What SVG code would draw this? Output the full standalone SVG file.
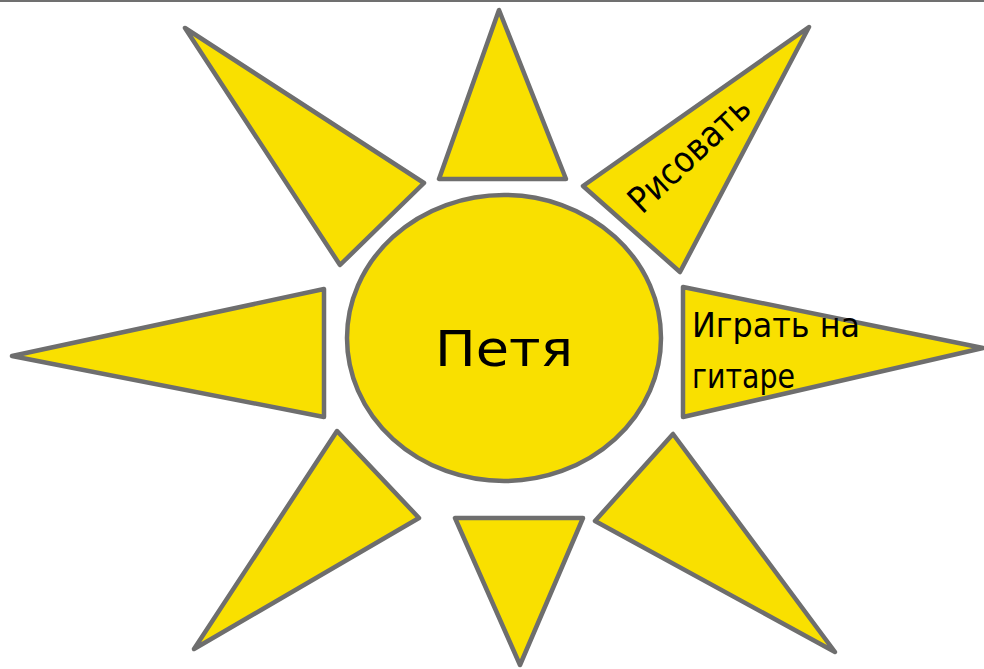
<svg xmlns="http://www.w3.org/2000/svg" width="984" height="669" viewBox="0 0 984 669">
  <style>
    .ray { fill: #f9e000; stroke: #6e6e6e; stroke-width: 4.5; stroke-linejoin: round; }
    .core { fill: #f9e000; stroke: #6e6e6e; stroke-width: 4.5; }
    .lbl { font-family: "DejaVu Sans", "Noto Sans", sans-serif; fill: #000000; }
  </style>
  <rect x="0" y="0" width="984" height="669" fill="#ffffff"/>
  <line x1="0" y1="1" x2="984" y2="1" stroke="#707070" stroke-width="2"/>

  <g id="ray-top">
    <polygon class="ray" points="499,10 439,179 566,179"/>
  </g>
  <g id="ray-top-left">
    <polygon class="ray" points="185,28 424,183 340,265"/>
  </g>
  <g id="ray-risovat">
    <polygon class="ray" points="809,27 583,186 680,272"/>
    <text class="lbl" font-size="36" x="642" y="215" textLength="152" lengthAdjust="spacingAndGlyphs" transform="rotate(-43 642 215)">Рисовать</text>
  </g>
  <g id="ray-left">
    <polygon class="ray" points="12,356 324,289 324,417"/>
  </g>
  <g id="ray-gitara">
    <polygon class="ray" points="983,348 683,287 683,417"/>
    <text class="lbl" font-size="34" x="692" y="337" textLength="168" lengthAdjust="spacingAndGlyphs">Играть на</text>
    <text class="lbl" font-size="34" x="692" y="388" textLength="103" lengthAdjust="spacingAndGlyphs">гитаре</text>
  </g>
  <g id="ray-bottom-left">
    <polygon class="ray" points="337,431 419,518 194,649"/>
  </g>
  <g id="ray-bottom">
    <polygon class="ray" points="455,518 583,518 520,665"/>
  </g>
  <g id="ray-bottom-right">
    <polygon class="ray" points="673,434 595,521 835,652"/>
  </g>
  <g id="center-petya">
    <ellipse class="core" cx="504" cy="338" rx="157" ry="143"/>
    <text class="lbl" font-size="50" x="435" y="366" textLength="138" lengthAdjust="spacingAndGlyphs">Петя</text>
  </g>
</svg>
